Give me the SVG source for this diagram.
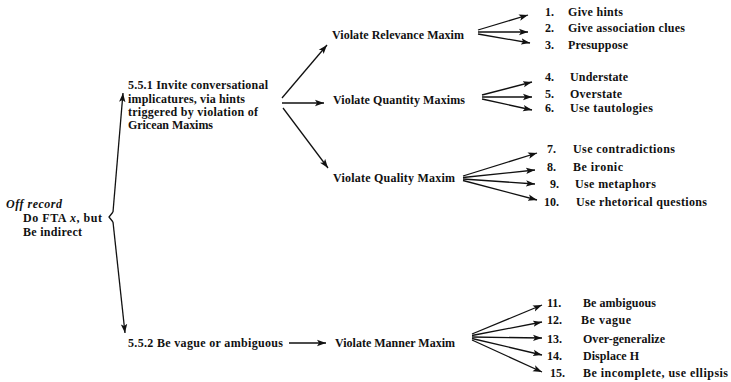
<svg xmlns="http://www.w3.org/2000/svg" width="731" height="382" viewBox="0 0 731 382">
<defs>
<marker id="ah" markerWidth="10" markerHeight="8" refX="9" refY="4" orient="auto" markerUnits="userSpaceOnUse">
<path d="M0,0.8 L9,4 L0,7.2 L2,4 Z" fill="#111"/>
</marker>
<style>
text{font-family:"Liberation Serif","Times New Roman",serif;font-size:12px;fill:#111;font-weight:bold}
.it{font-style:italic}
.c line,.c path{stroke:#111;stroke-width:1.3;fill:none}
.a{marker-end:url(#ah)}
</style>
</defs>
<rect width="731" height="382" fill="#fff"/>
<g id="root">
<text x="6" y="208" class="it" textLength="56" lengthAdjust="spacing">Off record</text>
<text x="23" y="222" textLength="79" lengthAdjust="spacing">Do FTA <tspan class="it">x</tspan>, but</text>
<text x="23" y="236" textLength="59" lengthAdjust="spacing">Be indirect</text>
</g>
<g id="n551">
<text x="128" y="89" textLength="140" lengthAdjust="spacing">5.5.1 Invite conversational</text>
<text x="128" y="103" textLength="117" lengthAdjust="spacing">implicatures, via hints</text>
<text x="128" y="116" textLength="130" lengthAdjust="spacing">triggered by violation of</text>
<text x="128" y="129" textLength="85" lengthAdjust="spacing">Gricean Maxims</text>
</g>
<g id="n552"><text x="128" y="347" textLength="155" lengthAdjust="spacing">5.5.2 Be vague or ambiguous</text></g>
<g id="relevance"><text x="332" y="39" textLength="132" lengthAdjust="spacing">Violate Relevance Maxim</text></g>
<g id="quantity"><text x="333" y="104" textLength="132" lengthAdjust="spacing">Violate Quantity Maxims</text></g>
<g id="quality"><text x="333" y="182" textLength="122" lengthAdjust="spacing">Violate Quality Maxim</text></g>
<g id="manner"><text x="335" y="347" textLength="120" lengthAdjust="spacing">Violate Manner Maxim</text></g>
<g id="i1"><text x="545" y="16">1.</text><text x="568" y="16" textLength="55" lengthAdjust="spacing">Give hints</text></g>
<g id="i2"><text x="545" y="32">2.</text><text x="568" y="32" textLength="117" lengthAdjust="spacing">Give association clues</text></g>
<g id="i3"><text x="545" y="49">3.</text><text x="568" y="49" textLength="60" lengthAdjust="spacing">Presuppose</text></g>
<g id="i4"><text x="545" y="81">4.</text><text x="570" y="81" textLength="58" lengthAdjust="spacing">Understate</text></g>
<g id="i5"><text x="545" y="98">5.</text><text x="570" y="98" textLength="52" lengthAdjust="spacing">Overstate</text></g>
<g id="i6"><text x="545" y="112">6.</text><text x="570" y="112" textLength="83" lengthAdjust="spacing">Use tautologies</text></g>
<g id="i7"><text x="547" y="153">7.</text><text x="573" y="153" textLength="102" lengthAdjust="spacing">Use contradictions</text></g>
<g id="i8"><text x="547" y="171">8.</text><text x="573" y="171" textLength="50" lengthAdjust="spacing">Be ironic</text></g>
<g id="i9"><text x="550" y="188">9.</text><text x="575" y="188" textLength="81" lengthAdjust="spacing">Use metaphors</text></g>
<g id="i10"><text x="544" y="206">10.</text><text x="576" y="206" textLength="131" lengthAdjust="spacing">Use rhetorical questions</text></g>
<g id="i11"><text x="547" y="307">11.</text><text x="583" y="307" textLength="73" lengthAdjust="spacing">Be ambiguous</text></g>
<g id="i12"><text x="547" y="324">12.</text><text x="581" y="324" textLength="50" lengthAdjust="spacing">Be vague</text></g>
<g id="i13"><text x="547" y="343">13.</text><text x="583" y="343" textLength="82" lengthAdjust="spacing">Over-generalize</text></g>
<g id="i14"><text x="547" y="360">14.</text><text x="583" y="360" textLength="56" lengthAdjust="spacing">Displace H</text></g>
<g id="i15"><text x="550" y="377">15.</text><text x="583" y="377" textLength="145" lengthAdjust="spacing">Be incomplete, use ellipsis</text></g>
<g id="connectors" class="c">
<path class="a" d="M113,212 L123,93"/>
<path d="M113,212 L109,217 L113,222"/>
<path class="a" d="M113,222 L125,333"/>
<line class="a" x1="282" y1="98" x2="327" y2="45"/>
<line class="a" x1="282" y1="103" x2="324" y2="103"/>
<line class="a" x1="283" y1="108" x2="328" y2="168"/>
<line class="a" x1="289" y1="343" x2="326" y2="343"/>
<line class="a" x1="478" y1="30" x2="528" y2="15"/>
<line class="a" x1="478" y1="32" x2="528" y2="32"/>
<line class="a" x1="478" y1="34" x2="530" y2="43"/>
<line class="a" x1="482" y1="95" x2="532" y2="82"/>
<line class="a" x1="482" y1="97" x2="532" y2="97"/>
<line class="a" x1="482" y1="99" x2="532" y2="110"/>
<line class="a" x1="463" y1="176" x2="537" y2="153"/>
<line class="a" x1="463" y1="177.5" x2="535" y2="170"/>
<line class="a" x1="463" y1="179" x2="535" y2="184"/>
<line class="a" x1="463" y1="180.5" x2="537" y2="200"/>
<line class="a" x1="472" y1="334" x2="542" y2="305"/>
<line class="a" x1="472" y1="335.5" x2="542" y2="322"/>
<line class="a" x1="472" y1="337" x2="542" y2="338"/>
<line class="a" x1="472" y1="338.5" x2="542" y2="355"/>
<line class="a" x1="472" y1="340" x2="542" y2="372"/>
</g>
</svg>
